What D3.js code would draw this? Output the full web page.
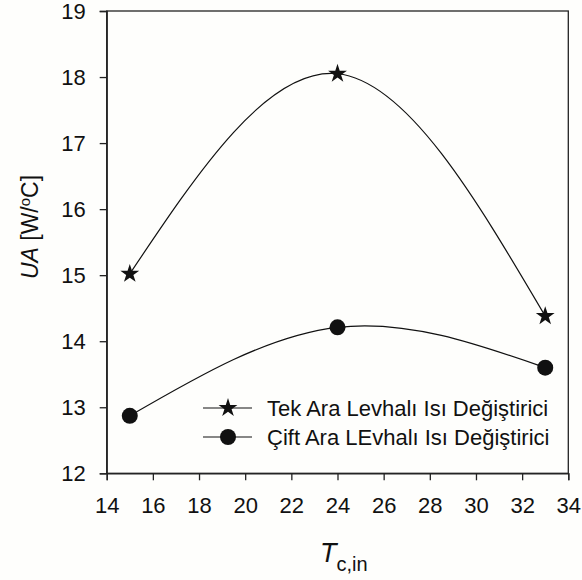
<!DOCTYPE html>
<html>
<head>
<meta charset="utf-8">
<script src="https://cdn.jsdelivr.net/npm/d3@7"></script>
<style>
  html, body { margin: 0; padding: 0; background: #fefefc; }
  svg { display: block; font-family: "Liberation Sans", Arial, sans-serif; }
</style>
</head>
<body>
<svg id="chart" width="582" height="580"></svg>
<script>
// Inlet cold-side temperature (°C)
const temps = [15, 24, 33];
// UA values (W/°C) per exchanger type
const tekValues = [15.02, 18.05, 14.38];
const ciftValues = [12.87, 14.21, 13.60];
const seriesNames = ["Tek Ara Levhalı Isı Değiştirici", "Çift Ara LEvhalı Isı Değiştirici"];
const xTicks = [14, 16, 18, 20, 22, 24, 26, 28, 30, 32, 34];
const yTicks = [12, 13, 14, 15, 16, 17, 18, 19];

const svg = d3.select("#chart");
const plotLeft = 106.7, plotRight = 568.3, plotTop = 11, plotBottom = 473.3;

const x = d3.scaleLinear().domain([14, 34]).range([plotLeft, plotRight]);
const y = d3.scaleLinear().domain([12, 19]).range([plotBottom, plotTop]);

// frame
svg.append("rect")
  .attr("x", plotLeft).attr("y", plotTop)
  .attr("width", plotRight - plotLeft).attr("height", plotBottom - plotTop)
  .attr("fill", "none").attr("stroke", "#222").attr("stroke-width", 1.3);

// axes
const xAxis = svg.append("g")
  .attr("transform", `translate(0,${plotBottom})`)
  .call(d3.axisBottom(x).tickValues(xTicks).tickFormat(d3.format("d")).tickSize(7).tickPadding(13));
const yAxis = svg.append("g")
  .attr("transform", `translate(${plotLeft},0)`)
  .call(d3.axisLeft(y).tickValues(yTicks).tickFormat(d3.format("d")).tickSize(7).tickPadding(14));

[xAxis, yAxis].forEach(g => {
  g.select(".domain").attr("stroke", "#222").attr("stroke-width", 1.3);
  g.selectAll(".tick line").attr("stroke", "#222").attr("stroke-width", 1.3);
  g.selectAll(".tick text")
    .attr("fill", "#111")
    .style("font-size", "22px")
    .style("font-family", "'Liberation Sans', Arial, sans-serif");
});
xAxis.selectAll(".tick text").attr("dy", "0.9em");

const line = d3.line()
  .x(d => x(d[0])).y(d => y(d[1]))
  .curve(d3.curveNatural);

const tekPts = temps.map((t, i) => [t, tekValues[i]]);
const ciftPts = temps.map((t, i) => [t, ciftValues[i]]);

const star = d3.symbol().type(d3.symbolStar).size(110);

function drawSeries(pts, marker) {
  svg.append("path").datum(pts)
    .attr("d", line)
    .attr("fill", "none").attr("stroke", "#111").attr("stroke-width", 1.2);
  const g = svg.append("g");
  pts.forEach(p => {
    if (marker === "star") {
      g.append("path").attr("d", star)
        .attr("transform", `translate(${x(p[0])},${y(p[1])})`)
        .attr("fill", "#111");
    } else {
      g.append("circle").attr("cx", x(p[0])).attr("cy", y(p[1]))
        .attr("r", 8).attr("fill", "#111");
    }
  });
}
drawSeries(tekPts, "star");
drawSeries(ciftPts, "circle");

// legend
const legendRows = [408, 437];
seriesNames.forEach((name, i) => {
  const ly = legendRows[i];
  svg.append("line").attr("x1", 203).attr("x2", 252).attr("y1", ly).attr("y2", ly)
    .attr("stroke", "#111").attr("stroke-width", 1.2);
  if (i === 0) {
    svg.append("path").attr("d", star)
      .attr("transform", `translate(228,${ly})`).attr("fill", "#111");
  } else {
    svg.append("circle").attr("cx", 228).attr("cy", ly).attr("r", 8).attr("fill", "#111");
  }
  svg.append("text").attr("x", 267).attr("y", ly).attr("dy", "0.35em")
    .style("font-size", "22px").attr("fill", "#111").text(name);
});

// y title
const yt = svg.append("text")
  .attr("transform", "translate(38,227) rotate(-90)")
  .attr("text-anchor", "middle")
  .style("font-size", "23px").attr("fill", "#111");
yt.append("tspan").style("font-style", "italic").text("UA");
yt.append("tspan").text(" [W/");
yt.append("tspan").attr("dy", "-8").style("font-size", "15px").text("o");
yt.append("tspan").attr("dy", "8").text("C]");

// x title
const xt = svg.append("text")
  .attr("x", 320).attr("y", 562)
  .style("font-size", "27px").attr("fill", "#111");
xt.append("tspan").style("font-style", "italic").text("T");
xt.append("tspan").attr("dy", "9").style("font-size", "20px").text("c,in");
</script>
</body>
</html>
